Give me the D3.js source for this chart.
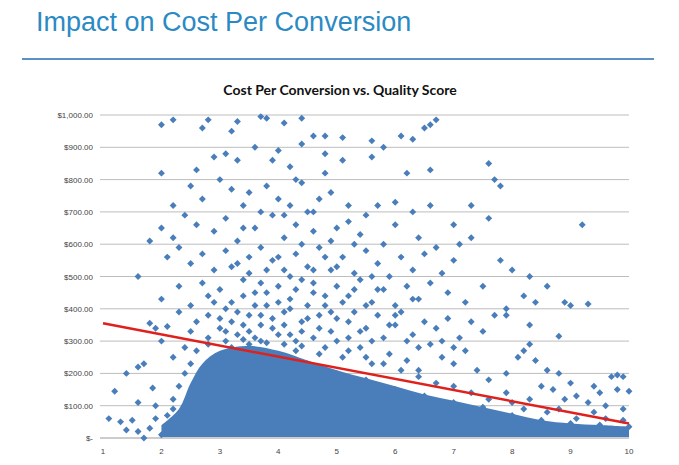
<!DOCTYPE html>
<html>
<head>
<meta charset="utf-8">
<script src="https://cdn.jsdelivr.net/npm/d3@7"></script>
<style>
  body { margin: 0; background: #fff; }
  svg { display: block; }
</style>
</head>
<body>
<svg id="chart" width="679" height="465"></svg>
<script>
const yTicks = [0, 100, 200, 300, 400, 500, 600, 700, 800, 900, 1000];
const xTicks = [1, 2, 3, 4, 5, 6, 7, 8, 9, 10];

// solid mass of points near the bottom: upper edge per quality score
const denseX   = [2.0, 2.3, 2.5, 2.7, 3.0, 3.5, 4.0, 4.5, 5.0, 5.5, 6.0, 6.5, 7.0, 7.5, 8.0, 8.5, 9.0, 9.5, 10.0];
const denseTop = [40, 90, 170, 230, 270, 285, 270, 240, 210, 185, 160, 135, 115, 95, 75, 55, 45, 40, 35];

// scattered points, "score cost" pairs
const scatterPts = `
2.0 970 2.2 985 2.7 960 2.8 985 3.2 950 3.3 980 3.7 995 3.8 990 4.1 975 4.4 990 4.6 935 4.8 935 5.1 930 5.6 920 5.8 900 6.1 935 6.3 925 6.5 960 6.7 985 6.6 970
2.0 820 2.6 830 2.9 870 3.1 880 3.3 860 3.6 900 3.9 860 4.0 890 4.2 840 4.4 910 4.8 880 5.1 860 5.6 870 6.2 820 6.6 830 7.6 850 7.7 800 7.8 780
2.2 720 2.5 780 2.7 740 3.0 800 3.2 770 3.4 720 3.5 760 3.8 780 4.0 740 4.2 720 4.4 790 4.6 700 4.9 760 5.2 720 5.5 690 5.7 720 6.0 730 6.3 700 6.6 720 7.0 660 7.3 720 7.6 680
1.8 610 2.0 650 2.2 620 2.4 690 2.6 660 2.9 640 3.1 680 3.3 610 3.6 650 3.9 690 4.1 620 4.3 660 4.6 640 4.9 610 5.2 670 5.4 630 5.8 600 6.0 660 6.4 620 6.7 590 7.1 600 7.3 620 9.2 660
1.6 500 2.1 560 2.3 590 2.5 540 2.7 570 2.9 520 3.1 580 3.3 540 3.5 510 3.7 590 3.9 550 4.1 520 4.3 570 4.5 530 4.7 590 4.9 520 5.1 560 5.3 510 5.5 580 5.7 540 5.9 500 6.1 560 6.3 520 6.5 570 6.8 510 7.0 550 7.8 550 8.0 520 8.3 500
2.0 430 2.3 470 2.5 410 2.7 480 2.8 440 3.0 460 3.2 420 3.4 490 3.6 450 3.8 410 4.0 470 4.2 430 4.4 490 4.6 450 4.8 410 5.0 470 5.2 440 5.4 490 5.6 420 5.8 460 6.0 410 6.2 470 6.4 430 6.6 480 6.9 450 7.2 420 7.5 470 7.9 400 8.2 440 8.4 420 8.6 470 8.9 420 9.3 415 9.0 410
1.8 355 1.9 340 2.1 345 2.3 390 2.5 330 2.6 360 2.8 310 3.0 370 3.1 330 3.3 390 3.4 350 3.6 310 3.7 380 3.9 340 4.1 390 4.2 320 4.4 360 4.6 310 4.7 380 4.9 330 5.0 370 5.2 310 5.3 390 5.5 340 5.7 380 5.8 310 6.0 350 6.1 390 6.3 320 6.5 360 6.7 340 6.9 370 7.1 310 7.3 360 7.5 330 7.7 380 7.9 380 8.3 350 8.3 290 8.8 315
1.2 145 1.4 200 1.6 220 1.7 230 2.0 300 2.2 250 2.4 280 2.6 270 2.8 290 3.2 280 3.5 290 3.8 295 4.3 270 4.7 260 5.1 250 5.4 280 5.6 230 5.9 260 6.2 240 6.4 210 6.6 290 6.8 250 7.0 230 7.2 270 7.4 210 7.6 180 7.9 200 8.1 250 8.2 270 8.4 240 8.6 210 8.8 200 9.0 170 9.4 160 9.7 190 9.8 195 9.9 190
8.5 160 8.7 150 8.9 120 9.1 130 9.3 110 9.5 140 9.6 100 9.8 150 10.0 145 9.9 90 9.4 80 8.8 90 7.9 140 8.3 120
1.1 60 1.3 50 1.4 25 1.5 55 1.6 20 1.7 0 1.8 30 1.9 60 1.9 100 2.0 10 2.1 70 2.2 120 2.3 160 2.4 200 2.1 40 1.6 110 1.85 155 2.5 230 2.2 90 2.4 100
3.0 240 3.3 265 4.0 255 4.5 230 5.0 200 5.5 180 6.0 150 6.5 130 7.0 110 7.5 95 8.0 70 8.5 55 9.0 45 9.5 40 10.0 35 2.7 180 2.5 130
2.8 380 2.9 420 3.0 340 3.1 400 3.2 360 3.3 320 3.4 440 3.5 380 3.5 330 3.6 410 3.7 350 3.8 450 3.9 370 4.0 320 4.0 420 4.1 350 4.2 400 4.3 300 4.3 460 4.4 330 4.5 410 4.5 370 4.6 480 4.7 340 4.8 440 4.9 390 5.0 300 5.1 420 5.2 360 5.3 460 5.4 330 5.5 410 5.6 300 5.7 460 5.9 350 6.0 380 6.2 300 6.3 430 6.4 280 6.8 300 7.0 280
3.1 300 3.4 305 3.7 300 4.1 290 4.4 285 4.8 280 5.2 270 5.5 250 5.8 230 6.1 210 6.4 190 6.7 170 7.0 160 7.3 140 7.6 120 8.0 110 8.2 90 8.6 80 9.1 60 9.6 60 9.9 55
3.2 530 3.5 560 3.7 480 3.8 520 4.0 560 4.2 500 4.4 600 4.6 520 4.8 560 5.0 530 5.3 600 5.6 500 4.1 690 3.4 650 4.5 700 4.7 740 5.0 650 3.7 700 4.3 800 4.8 820
`.trim().split(/\s+/).map(Number);

// linear trend line end points
const trendX = [1, 10];
const trendY = [355, 45];

const svg = d3.select('#chart');
const MARGIN = { top: 115, left: 103, right: 50, bottom: 27 };
const W = 679, H = 465;

const x = d3.scaleLinear().domain([1, 10]).range([MARGIN.left, W - MARGIN.right]);
const y = d3.scaleLinear().domain([0, 1000]).range([H - MARGIN.bottom, MARGIN.top]);

// heading + rule
svg.append('text').attr('x', 36).attr('y', 31)
  .attr('font-family', 'Liberation Sans, Arial, sans-serif').attr('font-size', 27)
  .attr('fill', '#2b8ac4').text('Impact on Cost Per Conversion');
svg.append('line').attr('x1', 22).attr('x2', 654).attr('y1', 59).attr('y2', 59)
  .attr('stroke', '#5b8fc7').attr('stroke-width', 2);

svg.append('text').attr('x', 340).attr('y', 95).attr('text-anchor', 'middle')
  .attr('font-family', 'Lato, Open Sans, sans-serif').attr('font-weight', 'bold')
  .attr('font-size', 14).attr('fill', '#111').text('Cost Per Conversion vs. Quality Score');

// grid + y labels
const fmt = v => v === 0 ? '$-' : '$' + d3.format(',.2f')(v);
svg.append('g').selectAll('line').data(yTicks).join('line')
  .attr('x1', x(1) - 3).attr('x2', x(10)).attr('y1', d => y(d)).attr('y2', d => y(d))
  .attr('stroke', d => d === 0 ? '#999' : '#bdbdbd').attr('stroke-width', 1);
svg.append('g').selectAll('text').data(yTicks).join('text')
  .attr('x', x(1) - 10).attr('y', d => y(d) + 3).attr('text-anchor', 'end')
  .attr('font-family', 'Liberation Sans, Arial, sans-serif').attr('font-size', 8)
  .attr('fill', '#444').text(fmt);

// x axis labels
svg.append('g').selectAll('text').data(xTicks).join('text')
  .attr('x', d => x(d)).attr('y', y(0) + 16).attr('text-anchor', 'middle')
  .attr('font-family', 'Liberation Sans, Arial, sans-serif').attr('font-size', 8)
  .attr('fill', '#444').text(d => d);

const blue = '#4a7ebb';

// dense core
const area = d3.area().x(d => x(d[0])).y0(y(0) - 1).y1(d => y(d[1])).curve(d3.curveCatmullRom);
svg.append('path').datum(denseX.map((v, i) => [v, denseTop[i]]))
  .attr('d', area).attr('fill', blue);

// scattered diamonds (rotated squares, like Excel markers)
const pts = [];
for (let i = 0; i < scatterPts.length; i += 2) pts.push([scatterPts[i], scatterPts[i + 1]]);
const diamond = d3.symbol().type(d3.symbolSquare).size(24);
svg.append('g').selectAll('path').data(pts).join('path')
  .attr('transform', d => `translate(${x(d[0])},${y(d[1])}) rotate(45)`)
  .attr('d', diamond).attr('fill', blue);

// trend
svg.append('line')
  .attr('x1', x(trendX[0])).attr('y1', y(trendY[0]))
  .attr('x2', x(trendX[1])).attr('y2', y(trendY[1]))
  .attr('stroke', '#e0201c').attr('stroke-width', 2.5);
</script>
</body>
</html>
